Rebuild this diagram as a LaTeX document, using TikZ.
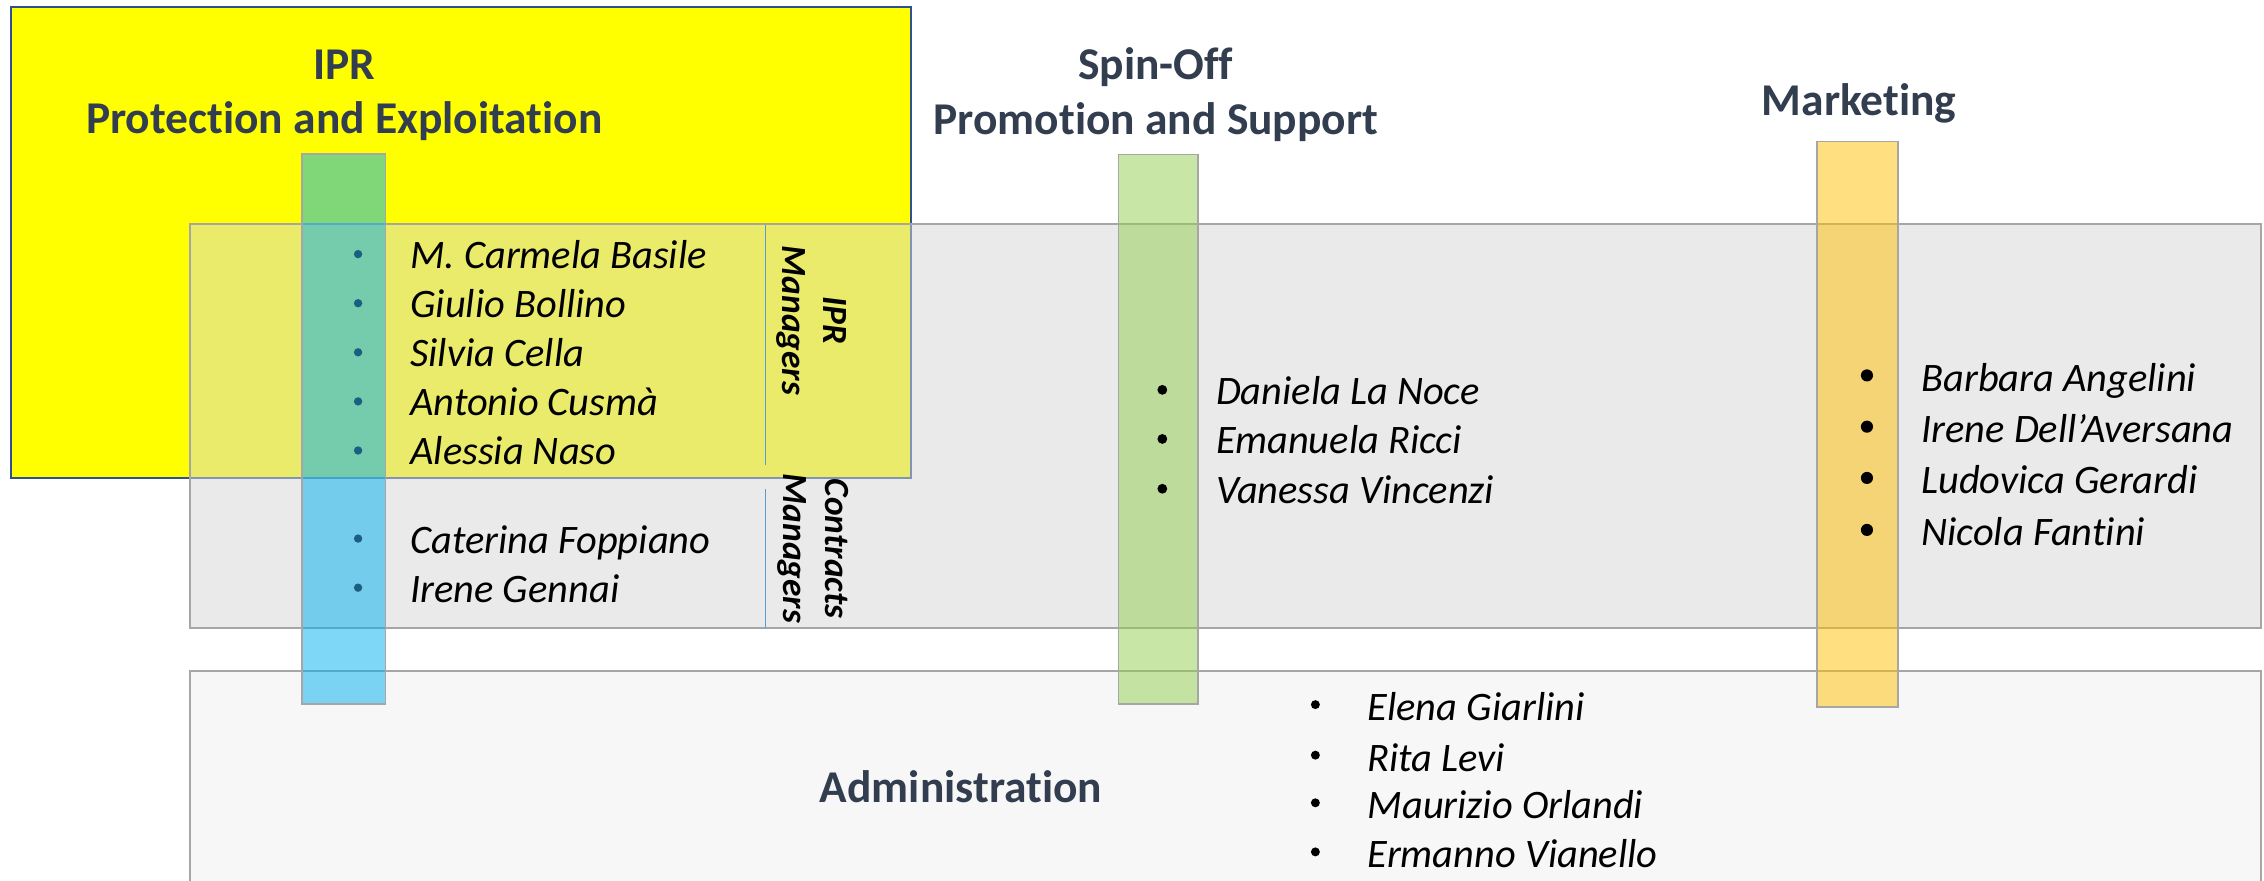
\documentclass[tikz,border=0pt]{standalone}
\usepackage{fontspec}
\setmainfont{Carlito}[Ligatures=NoCommon]
\definecolor{titlecol}{HTML}{323E4F}
\definecolor{yborder}{HTML}{2F528F}
\definecolor{boxline}{HTML}{A6A6A6}
\definecolor{graybox}{RGB}{214,214,214}
\definecolor{adminfill}{HTML}{F7F7F7}
\definecolor{bluebar}{HTML}{00B0F0}
\definecolor{greenbar}{HTML}{92D050}
\definecolor{orangebar}{HTML}{FFC000}
\definecolor{divider}{HTML}{5B9BD5}
\definecolor{iprdot}{HTML}{1B5E80}
\definecolor{pureyellow}{RGB}{255,255,0}
\begin{document}
\begin{tikzpicture}[x=1pt,y=-1pt,
  title/.style={font=\bfseries\fontsize{31.5}{38}\selectfont, text=titlecol, anchor=base, inner sep=0},
  person/.style={font=\itshape\fontsize{28}{34}\selectfont, anchor=base west, inner sep=0},
  vlabel/.style={font=\bfseries\itshape\fontsize{24.5}{29}\selectfont, rotate=-90, align=center, inner sep=0},
  barbox/.style={draw=boxline, line width=1.1, fill opacity=0.5},
  dividerline/.style={draw=divider, line width=1}
]
\clip (0,0) rectangle (1568,610);
\useasboundingbox (0,0) rectangle (1568,610);
\fill[white] (0,0) rectangle (1568,610);

% big boxes
\draw[fill=pureyellow, draw=yborder, line width=1.4] (7.3,5.1) rectangle (630.8,331.3);
\draw[fill=graybox, fill opacity=0.5, draw=boxline, line width=1.3] (131.5,155.1) rectangle (1566,435.2);
\draw[fill=adminfill, draw=boxline, line width=1.3] (131.5,464.7) rectangle (1566,640);

% dividers
\draw[dividerline] (530,156) -- (530,322);
\draw[dividerline] (530,339) -- (530,435);

% bars
\draw[barbox, fill=bluebar] (209,106.7) rectangle (267,487.6);
\draw[barbox, fill=greenbar] (774.5,107) rectangle (829.5,487.6);
\draw[barbox, fill=orangebar] (1258.5,98) rectangle (1314.3,489.5);

% titles
\node[title] (t1a) at (238.5,55) {IPR};
\node[title] (t1b) at (238.5,92.5) {Protection and Exploitation};
\node[title] (t2a) at (800.5,55) {Spin-Off};
\node[title] (t2b) at (800.5,93) {Promotion and Support};
\node[title] (t3) at (1287.5,80) {Marketing};
\node[title] (t4) at (665.5,556) {Administration};

% vertical labels
\node[vlabel] (lipr) at (562,222) {IPR\\Managers};
\node[vlabel] (lcon) at (563,380) {Contracts\\Managers};

% IPR managers
\foreach \y/\n [count=\i] in {176/M. Carmela Basile, 210/Giulio Bollino, 244/Silvia Cella, 278/Antonio Cusmà, 312/Alessia Naso}{
  \fill[iprdot] (248,\y) circle (2.9);
  \node[person] (ipr\i) at (284,\y+10) {\n};
}
% contracts managers
\foreach \y/\n [count=\i] in {373/Caterina Foppiano, 407/Irene Gennai}{
  \fill[iprdot] (248,\y) circle (2.9);
  \node[person] (con\i) at (284,\y+10) {\n};
}
% spin-off
\foreach \y/\n [count=\i] in {270/Daniela La Noce, 304/Emanuela Ricci, 338.5/Vanessa Vincenzi}{
  \fill[black] (805,\y) circle (3.4);
  \node[person] (spin\i) at (842,\y+10) {\n};
}
% marketing
\foreach \y/\n [count=\i] in {260/Barbara Angelini, 295.5/Irene Dell’Aversana, 331/Ludovica Gerardi, 367/Nicola Fantini}{
  \fill[black] (1293,\y) circle (4.2);
  \node[person] (mkt\i) at (1330.5,\y+11) {\n};
}
% administration
\foreach \y/\n [count=\i] in {488/Elena Giarlini, 523/Rita Levi, 556/Maurizio Orlandi, 590/Ermanno Vianello}{
  \fill[black] (911,\y) circle (3.1);
  \node[person] (adm\i) at (947,\y+11) {\n};
}
\end{tikzpicture}
\end{document}
